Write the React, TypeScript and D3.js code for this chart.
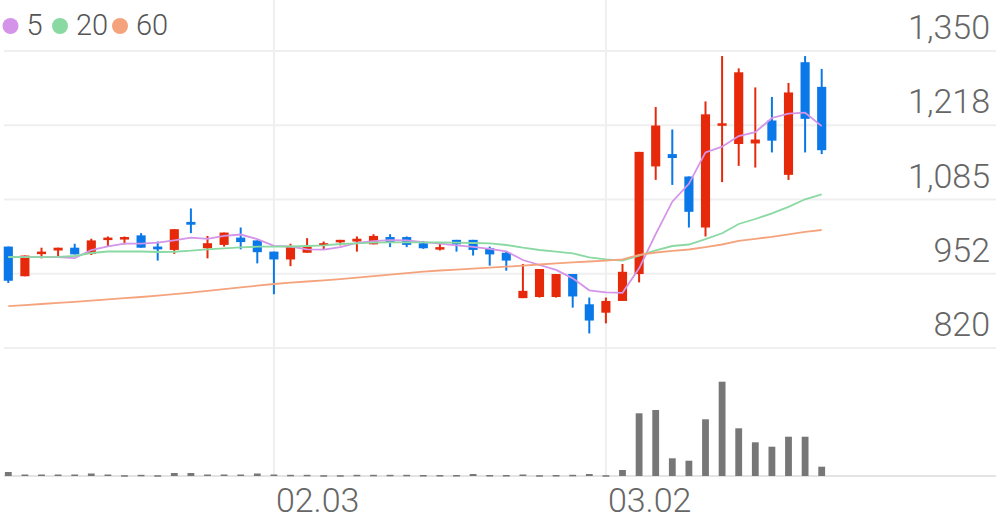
import React from "react";
import * as d3 from "d3";

const dates = [
  "01.08","01.09","01.10","01.13","01.14","01.15","01.16","01.17","01.20","01.21",
  "01.22","01.23","01.28","01.29","01.30","01.31","02.03","02.04","02.05","02.06",
  "02.07","02.10","02.11","02.12","02.13","02.14","02.17","02.18","02.19","02.20",
  "02.21","02.24","02.25","02.26","02.27","02.28","03.02","03.03","03.04","03.05",
  "03.06","03.09","03.10","03.11","03.12","03.13","03.16","03.17","03.18","03.19",
];
const opens = [
  1001,948,989,994,999,988,1013,1014,1021,1001,
  995,1045,998,1004,1017,1012,992,978,990,1003,
  1009,1010,1005,1018,1018,1007,998,1013,1013,998,
  990,909,911,911,952,898,883,904,952,1144,
  1166,1126,1035,1217,1184,1185,1226,1129,1330,1286,
];
const highs = [
  1001,985,999,999,1006,1015,1019,1019,1025,1010,
  1032,1069,1020,1026,1035,1012,992,1006,1016,1010,
  1013,1019,1023,1023,1019,1011,1007,1013,1013,1001,
  992,970,961,952,952,910,910,970,1170,1250,
  1210,1126,1260,1341,1319,1285,1268,1293,1341,1318,
];
const lows = [
  936,948,980,984,987,986,1001,1005,999,976,
  988,1025,980,1001,996,971,916,966,990,996,
  1003,992,1005,1000,1000,997,994,992,985,967,
  958,909,910,910,892,846,864,904,937,1120,
  1111,1035,1019,1116,1145,1142,1169,1120,1169,1166,
];
const closes = [
  940,985,992,999,987,1012,1017,1018,999,996,
  1032,1040,1007,1026,1009,991,978,1002,1001,1007,
  1013,1015,1020,1009,1004,998,1000,1005,995,987,
  976,922,961,952,912,869,904,956,1170,1217,
  1159,1063,1237,1221,1312,1192,1190,1276,1229,1173,
];
const volumes = [
  40,15,15,15,15,25,15,8,12,8,
  30,30,15,15,15,25,15,12,12,8,
  8,12,12,12,12,10,10,10,20,10,
  10,15,8,10,12,20,8,60,627,660,
  177,153,567,943,477,337,293,393,393,93,
];
const ma5 = [
  982,982,982,982,980.5,994.8,1001.3,1006.4,1006.4,1008.2,
  1012.2,1016.8,1014.6,1020,1022.5,1014.3,1002.1,1001.1,996.1,995.7,
  1000.1,1007.4,1010.9,1012.5,1011.9,1008.9,1006.1,1003.1,1000.4,997,
  992.6,977,968.1,959.5,944.3,922.9,919.2,918.4,962.1,1023.2,
  1081.1,1113,1169.1,1179.3,1198.3,1205.1,1230.5,1238.3,1239.9,1216,
];
const ma20 = [
  982.4,982,982,982.7,984.2,989.5,992.2,992.6,992.2,991.3,
  991.8,993.6,996.1,997.9,999.7,1000.8,1000.8,1001.1,1002,1003.3,
  1005.6,1006.8,1007.9,1008.6,1008.6,1008.6,1008.3,1007.9,1007.4,1006.8,
  1003.8,999,994.9,991.8,989,981.9,978.3,975.8,985,994.3,
  1002,1004.7,1014.2,1024.7,1041.3,1050.2,1060.4,1071.8,1085.4,1094.3,
];
const ma60 = [
  894.8,896.6,898.5,900.5,902.4,904.6,906.7,908.9,911,913.5,
  916,919,922.1,924.9,928,931.2,934.2,936.5,938.7,940.8,
  943,945.6,948.3,951,953.7,956.3,958.3,959.9,961.7,963.3,
  965.1,967,969,971,972.8,974.4,976.1,978.3,986,990.4,
  993.5,995.8,1000.2,1004.7,1011,1014.9,1018.4,1022.9,1027.4,1030.6,
];
const priceTicks = [1350, 1217.5, 1085, 952.5, 820];
const priceTickLabels = ["1,350", "1,218", "1,085", "952", "820"];
const dateTickLabels = ["02.03", "03.02"];
const legendLabels = ["5", "20", "60"];

const W = 996;
const H = 519;
const SLOTS = 60;
const UP = "#e5290a";
const DOWN = "#0a78e8";
const MA_COLORS = ["#d494e8", "#8ad9a2", "#f5a37d"];
const FONT = "Roboto, 'Noto Sans', sans-serif";

export default function App() {
  const x = d3.scaleLinear().domain([-0.5, SLOTS - 0.5]).range([0, W]);
  const y = d3.scaleLinear().domain([820, 1350]).range([348, 51]);
  const yv = d3.scaleLinear().domain([0, 1280]).range([476, 348]);
  const step = x(1) - x(0);
  const bodyW = step * 0.55;
  const volW = step * 0.41;

  const line = d3
    .line<number>()
    .x((_, i) => x(i))
    .y((d) => y(d));

  const maSeries = [ma5, ma20, ma60];

  return (
    <svg
      width={W}
      height={H}
      style={{ position: "absolute", left: 0, top: 0, background: "#fff" }}
      fontFamily={FONT}
    >
      {priceTicks.map((t) => (
        <line key={"g" + t} x1={4} x2={W} y1={y(t)} y2={y(t)} stroke="#efefef" strokeWidth={2} />
      ))}
      {dateTickLabels.map((lbl) => {
        const i = dates.indexOf(lbl);
        return (
          <line key={"v" + lbl} x1={x(i)} x2={x(i)} y1={0} y2={476} stroke="#efefef" strokeWidth={2} />
        );
      })}
      <line x1={4} x2={W} y1={476} y2={476} stroke="#e4e4e4" strokeWidth={2} />

      {volumes.map((v, i) => (
        <rect
          key={"vol" + i}
          x={x(i) - volW / 2}
          y={yv(v)}
          width={volW}
          height={Math.max(1.5, yv(0) - yv(v))}
          fill="#777"
        />
      ))}

      {dates.map((d, i) => {
        const o = opens[i];
        const c = closes[i];
        const up = c >= o;
        const col = up ? UP : DOWN;
        const top = y(Math.max(o, c));
        const bot = y(Math.min(o, c));
        const h = Math.max(2.5, bot - top);
        return (
          <g key={"c" + d}>
            <line x1={x(i)} x2={x(i)} y1={y(highs[i])} y2={y(lows[i])} stroke={col} strokeWidth={2} />
            <rect x={x(i) - bodyW / 2} y={top} width={bodyW} height={h} fill={col} />
          </g>
        );
      })}

      {maSeries.map((s, k) => (
        <path key={"ma" + k} d={line(s) || ""} fill="none" stroke={MA_COLORS[k]} strokeWidth={1.8} />
      ))}

      {priceTicks.map((t, k) => (
        <text
          key={"pl" + t}
          x={990}
          y={y(t) - 12}
          textAnchor="end"
          fontSize={34}
          fontWeight={300}
          fill="#666"
        >
          {priceTickLabels[k]}
        </text>
      ))}

      {dateTickLabels.map((lbl) => {
        const i = dates.indexOf(lbl);
        return (
          <text key={"dl" + lbl} x={x(i) + 2} y={512} fontSize={34} fontWeight={300} fill="#666">
            {lbl}
          </text>
        );
      })}

      {legendLabels.map((lbl, k) => {
        const cx = [10.5, 60, 120][k];
        return (
          <g key={"lg" + lbl}>
            <circle cx={cx} cy={26} r={8} fill={MA_COLORS[k]} />
            <text x={cx + 16} y={35} fontSize={29} fontWeight={300} fill="#555">
              {lbl}
            </text>
          </g>
        );
      })}
    </svg>
  );
}
